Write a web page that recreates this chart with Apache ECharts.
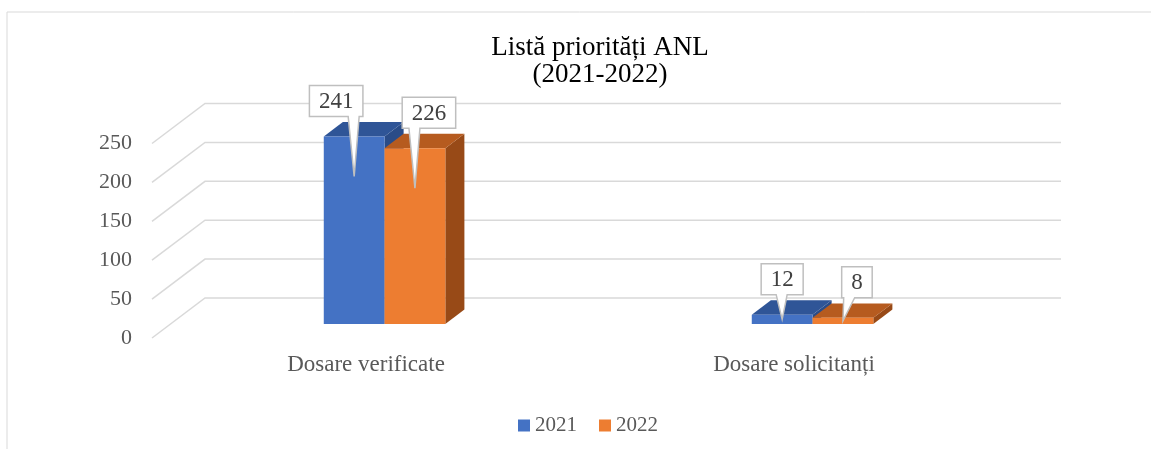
<!DOCTYPE html>
<html>
<head>
<meta charset="utf-8">
<script src="https://cdn.jsdelivr.net/npm/echarts@6/dist/echarts.min.js"></script>
<style>
  html, body { margin: 0; padding: 0; background: #fff; }
  #chart { width: 1151px; height: 449px; }
</style>
</head>
<body>
<div id="chart"></div>
<script>
// data
var categories = ['Dosare verificate', 'Dosare solicitanți']
var values2021 = [241, 12]
var values2022 = [226, 8]
var yTicks = [0, 50, 100, 150, 200, 250]

var FONT = 'Liberation Serif'
// fake 3D depth of the plot floor (px)
var DEPTH_X = 53
var DEPTH_Y = -40

var palette = {
  '2021': { front: '#4472C4', top: '#2F5597', side: '#2A4C88' },
  '2022': { front: '#ED7D31', top: '#B65B1F', side: '#984A17' }
}

function renderGrid(params, api) {
  var v = api.value(1)
  var a = api.coord([0, v])
  var b = api.coord([1, v])
  return {
    type: 'polyline',
    shape: { points: [a, [a[0] + DEPTH_X, a[1] + DEPTH_Y], [b[0] + DEPTH_X, b[1] + DEPTH_Y]] },
    style: { stroke: '#D9D9D9', lineWidth: 1.5, fill: null },
    silent: true
  }
}

function barGeom(api, seriesIdx) {
  var i = api.value(0)
  var v = api.value(1)
  var base = api.coord([i, 0])
  var top = api.coord([i, v])
  var catW = api.size([1, 0])[0]
  var bw = catW * 0.142
  var d0x = DEPTH_X * 0.35, d0y = DEPTH_Y * 0.35
  var x0 = (seriesIdx === 0 ? base[0] - bw : base[0]) + d0x
  return {
    x0: x0, bw: bw,
    yt: top[1] + d0y, yb: base[1] + d0y,
    dx: DEPTH_X * 0.36, dy: DEPTH_Y * 0.36
  }
}

function makeBarRender(name, seriesIdx) {
  var c = palette[name]
  return function (params, api) {
    var g = barGeom(api, seriesIdx)
    var x0 = g.x0, x1 = g.x0 + g.bw
    return {
      type: 'group',
      children: [
        {
          type: 'polygon',
          shape: { points: [[x1, g.yt], [x1 + g.dx, g.yt + g.dy], [x1 + g.dx, g.yb + g.dy], [x1, g.yb]] },
          style: { fill: c.side }
        },
        {
          type: 'polygon',
          shape: { points: [[x0, g.yt], [x1, g.yt], [x1 + g.dx, g.yt + g.dy], [x0 + g.dx, g.yt + g.dy]] },
          style: { fill: c.top }
        },
        {
          type: 'rect',
          shape: { x: x0, y: g.yt, width: g.bw, height: g.yb - g.yt },
          style: { fill: c.front }
        }
      ]
    }
  }
}

function makeLabelRender(seriesIdx) {
  return function (params, api) {
    var g = barGeom(api, seriesIdx)
    var v = api.value(1)
    var tipX = g.x0 + g.bw / 2
    var h = g.yb - g.yt
    var tipY = g.yt + Math.min(40, h / 2)
    var tall = h > 40
    var offX = seriesIdx === 0 ? (tall ? -18 : 0) : 14
    var w = String(v).length * 11.5 + 19
    var bh = 31
    var cx = tipX + offX
    var left = cx - w / 2, right = cx + w / 2
    var bottom = g.yt - 20, topY = bottom - bh
    var tl = Math.max(left + 2, tipX - 6)
    var tr = Math.min(right - 2, tl + 11)
    return {
      type: 'group',
      children: [
        {
          type: 'polygon',
          shape: { points: [[left, topY], [right, topY], [right, bottom], [tr, bottom], [tipX, tipY], [tl, bottom], [left, bottom]] },
          style: { fill: '#fff', stroke: '#BFBFBF', lineWidth: 1.5 }
        },
        {
          type: 'text',
          style: {
            text: String(v), x: cx, y: topY + bh / 2 + 1,
            align: 'center', verticalAlign: 'middle',
            font: '23px "' + FONT + '"', fill: '#404040'
          }
        }
      ]
    }
  }
}

function pairs(arr) {
  return arr.map(function (v, i) { return [i, v] })
}

var chart = echarts.init(document.getElementById('chart'))
chart.setOption({
  backgroundColor: '#fff',
  animation: false,
  title: {
    text: 'Listă priorități ANL\n(2021-2022)',
    left: 595,
    top: 29,
    textAlign: 'center',
    textStyle: { fontFamily: FONT, fontSize: 27, fontWeight: 'normal', color: '#000', lineHeight: 27 }
  },
  legend: {
    data: [{ name: '2021', icon: 'rect' }, { name: '2022', icon: 'rect' }],
    left: 513,
    top: 410,
    itemWidth: 12,
    itemHeight: 12,
    itemGap: 22,
    textStyle: { fontFamily: FONT, fontSize: 21, color: '#595959' }
  },
  grid: { left: 152, right: 143, top: 143.5, bottom: 111 },
  xAxis: [
    {
      type: 'category',
      data: categories,
      axisLine: { show: false },
      axisTick: { show: false },
      axisLabel: { fontFamily: FONT, fontSize: 23, color: '#595959', margin: 15 }
    },
    { type: 'value', min: 0, max: 1, show: false }
  ],
  yAxis: {
    type: 'value',
    min: 0,
    max: 250,
    interval: 50,
    axisLine: { show: false },
    axisTick: { show: false },
    splitLine: { show: false },
    axisLabel: { fontFamily: FONT, fontSize: 22, color: '#595959', margin: 20 }
  },
  graphic: [
    {
      type: 'rect',
      shape: { x: 7, y: 12, width: 1200, height: 500 },
      style: { fill: null, stroke: '#D9D9D9', lineWidth: 1 },
      silent: true
    }
  ],
  series: [
    {
      type: 'custom', name: 'grid', xAxisIndex: 1,
      data: yTicks.map(function (t) { return [0, t] }),
      renderItem: renderGrid, silent: true, z: 1
    },
    {
      type: 'custom', name: '2021', xAxisIndex: 0,
      itemStyle: { color: palette['2021'].front },
      data: pairs(values2021),
      renderItem: makeBarRender('2021', 0), z: 2
    },
    {
      type: 'custom', name: '2022', xAxisIndex: 0,
      itemStyle: { color: palette['2022'].front },
      data: pairs(values2022),
      renderItem: makeBarRender('2022', 1), z: 2
    },
    {
      type: 'custom', name: 'lbl2021', xAxisIndex: 0,
      data: pairs(values2021),
      renderItem: makeLabelRender(0), z: 3, silent: true
    },
    {
      type: 'custom', name: 'lbl2022', xAxisIndex: 0,
      data: pairs(values2022),
      renderItem: makeLabelRender(1), z: 3, silent: true
    }
  ]
})
</script>
</body>
</html>
